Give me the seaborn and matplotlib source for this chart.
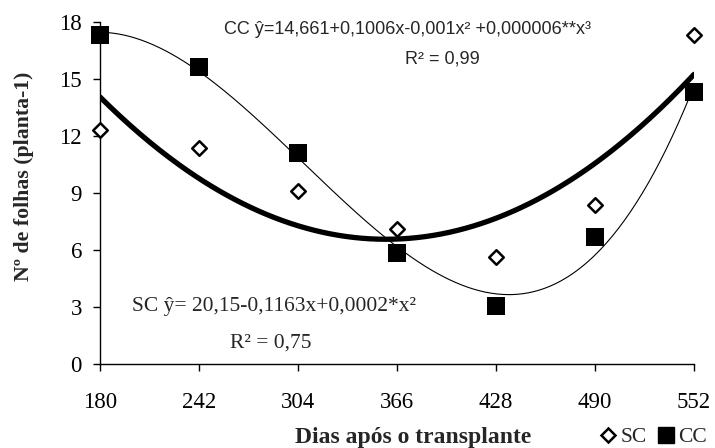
import numpy as np
import pandas as pd
import matplotlib
matplotlib.use("Agg")
import matplotlib.pyplot as plt
import seaborn as sns
from matplotlib.lines import Line2D

dias = [180, 242, 304, 366, 428, 490, 552]
sc = [12.3, 11.35, 9.1, 7.1, 5.65, 8.35, 17.3]
cc = [17.3, 15.65, 11.1, 5.85, 3.05, 6.7, 14.3]
xticks = [180, 242, 304, 366, 428, 490, 552]
yticks = [0, 3, 6, 9, 12, 15, 18]

sns.set_theme(style="white")
plt.rcParams['font.family'] = ['Liberation Serif', 'DejaVu Serif']

fig = plt.figure(figsize=(7.15, 4.48), dpi=100)
ax = fig.add_axes([100/715, 1-364/448, 594/715, 342/448])

df = pd.DataFrame({"dias": dias, "SC": sc, "CC": cc})

xs = np.linspace(180, 552, 300)
p_sc = np.polyfit(dias, sc, 2)
p_cc = np.polyfit(dias, cc, 3)
fit = pd.DataFrame({"x": xs, "sc": np.polyval(p_sc, xs), "cc": np.polyval(p_cc, xs)})

sns.lineplot(data=fit, x="x", y="sc", ax=ax, color="black", linewidth=3.8)
sns.lineplot(data=fit, x="x", y="cc", ax=ax, color="black", linewidth=0.8)

sns.scatterplot(data=df, x="dias", y="SC", ax=ax, marker="D", s=55, facecolor="white",
                edgecolor="black", linewidth=1.8, zorder=5, clip_on=False)
sns.scatterplot(data=df, x="dias", y="CC", ax=ax, marker="s", s=170, color="black",
                edgecolor="black", linewidth=0, zorder=5, clip_on=False)

ax.set_xlim(180, 552)
ax.set_ylim(0, 18)
ax.set_xticks(xticks)
ax.set_yticks(yticks)
ax.tick_params(axis="both", direction="out", length=5, width=1, colors="black",
               labelsize=16.5, pad=8, left=True, bottom=True)
ax.tick_params(axis="x", pad=15)
for s in ["top", "right"]:
    ax.spines[s].set_visible(False)
for s in ["left", "bottom"]:
    ax.spines[s].set_color("black")
    ax.spines[s].set_linewidth(1)

ax.set_xlabel("")
ax.set_ylabel("")
fig.text(24/715, 1-176/448, "Nº de folhas (planta-1)", fontsize=15.7, fontweight="bold",
         rotation=90, ha="center", va="center")
fig.text(413/715, 1-437/448, "Dias após o transplante", fontsize=17, fontweight="bold",
         ha="center", va="center")

sans = ['Liberation Sans', 'DejaVu Sans']
fig.text(407/715, 1-30/448, "CC ŷ=14,661+0,1006x-0,001x² +0,000006**x³", family=sans,
         fontsize=13, ha="center", va="center")
fig.text(442/715, 1-59/448, "R² = 0,99", family=sans, fontsize=13, ha="center", va="center")
fig.text(274/715, 1-307/448, "SC ŷ= 20,15-0,1163x+0,0002*x²", fontsize=15.5,
         ha="center", va="center")
fig.text(271/715, 1-343/448, "R² = 0,75", fontsize=15.5, ha="center", va="center")

handles = [Line2D([], [], marker="D", linestyle="none", markerfacecolor="white",
                  markeredgecolor="black", markeredgewidth=1.8, markersize=7),
           Line2D([], [], marker="s", linestyle="none", color="black", markersize=11)]
fig.legend(handles, ["SC", "CC"], loc="center", bbox_to_anchor=(652/715, 1-437/448),
           ncol=2, frameon=False, fontsize=15.5, handletextpad=0.05, columnspacing=0.4,
           handlelength=1.0, borderpad=0)

fig.savefig("out.png", dpi=100)
